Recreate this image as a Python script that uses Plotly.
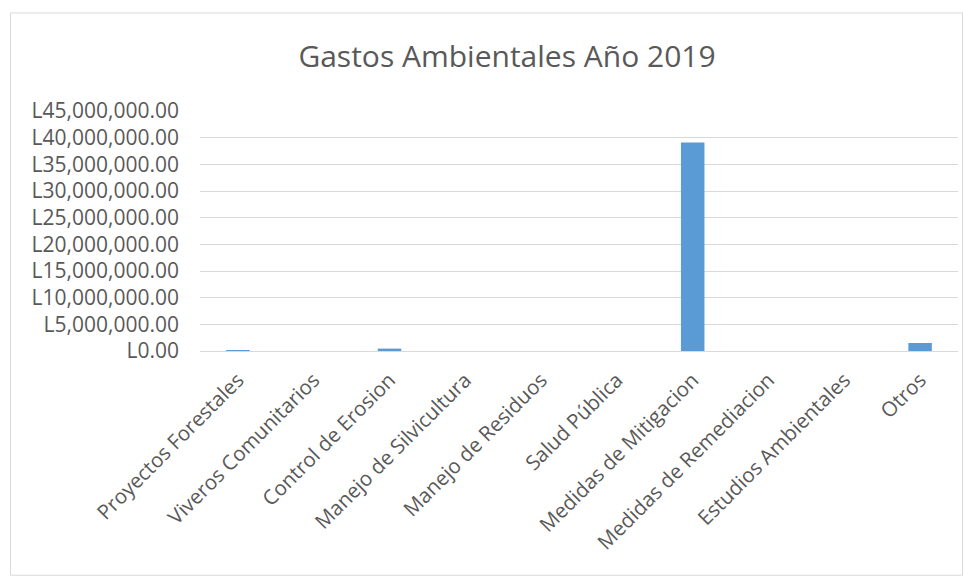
import plotly.graph_objects as go

categories = ["Proyectos Forestales", "Viveros Comunitarios", "Control de Erosion",
              "Manejo de Silvicultura", "Manejo de Residuos", "Salud Pública",
              "Medidas de Mitigacion", "Medidas de Remediacion", "Estudios Ambientales", "Otros"]
values = [120000, 0, 450000, 0, 0, 0, 39100000, 0, 0, 1500000]

W, H = 964, 576
L, R, T, B = 200, 6, 110.7, 225
pw, ph = W - L - R, H - T - B

def px(x):
    return (x - L) / pw

def py(y):
    return (H - B - y) / ph

fig = go.Figure(go.Bar(x=categories, y=values, marker_color="#5b9bd5", marker_line_width=0))

fig.update_layout(
    width=W, height=H,
    margin=dict(l=L, r=R, t=T, b=B, autoexpand=False),
    paper_bgcolor="white", plot_bgcolor="white",
    bargap=0.69,
    title=dict(text="Gastos Ambientales Año 2019", x=507 / W, xanchor="center",
               y=1 - 56 / H, yanchor="middle",
               font=dict(family="Open Sans", size=30, color="#595959")),
    font=dict(family="Open Sans", color="#595959"),
    shapes=[dict(type="rect", xref="paper", yref="paper",
                 x0=px(10.5), x1=px(962.5), y0=py(575.5), y1=py(12.5),
                 line=dict(color="#d9d9d9", width=1), layer="below")],
)
fig.update_xaxes(tickangle=-45, tickfont=dict(size=20.5, color="#595959"),
                 showline=True, linecolor="#d9d9d9", linewidth=1, ticks="",
                 showgrid=False, ticklabelstandoff=8)
fig.update_yaxes(range=[0, 45000000], dtick=5000000, tickprefix="L", tickformat=",.2f",
                 tickfont=dict(size=21, color="#595959"), gridcolor="#d9d9d9",
                 zeroline=False, showline=False, ticks="", ticklabelstandoff=20)

fig.write_html("out.html", config={"displayModeBar": False},
               post_script="document.body.style.margin='0px';")
